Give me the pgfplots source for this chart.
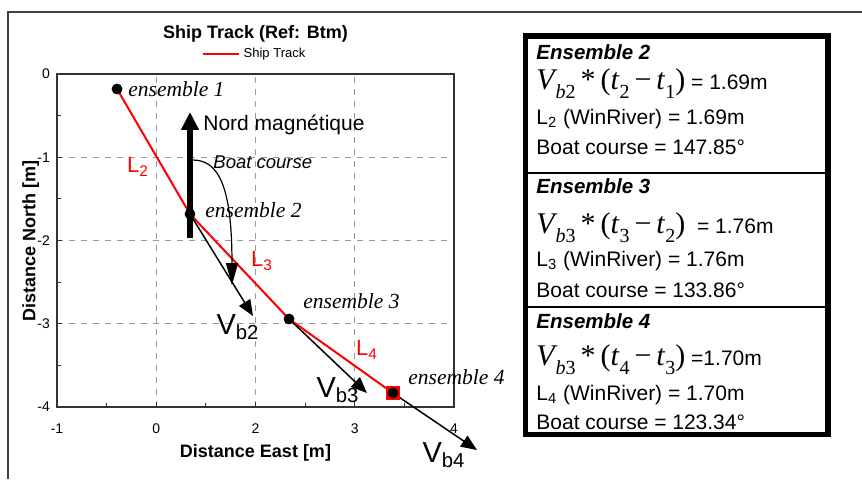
\documentclass[border=0pt]{standalone}
\usepackage{fontspec}
\setmainfont{Liberation Sans}
\newfontfamily\tnr{Liberation Serif}
\usepackage{pgfplots}
\pgfplotsset{compat=1.18}
\usetikzlibrary{arrows.meta}

% formula V_{b#1} * (t_#2 - t_#3), Times style
\newcommand\frm[3]{{\tnr\fontsize{15}{16}\selectfont
  \textit{V}\kern-1pt\raisebox{-4.5pt}{\fontsize{10}{11}\selectfont\textit{b}#1}\,*\,(\textit{t}\raisebox{-4.5pt}{\fontsize{10}{11}\selectfont #2}\,−\,\textit{t}\raisebox{-4.5pt}{\fontsize{10}{11}\selectfont #3})}}

\begin{document}
\begin{tikzpicture}
% 1 px of the reference = 0.5pt
\begin{scope}[x=0.5pt,y=-0.5pt]
  \useasboundingbox (0,0) rectangle (862,479);
  \draw[black!75, line width=0.75pt] (8,479) -- (8,12) -- (862,12);
\end{scope}

\begin{axis}[
    at={(28.5pt,-203.5pt)}, anchor=south west,
    scale only axis, width=198.5pt, height=166.5pt,
    xmin=-1, xmax=3, ymin=-4, ymax=0,
    xtick={-1,0,1,2,3}, xticklabels={-1,0,2,3,4},
    ytick={-4,-3,-2,-1,0},
    minor tick num=1,
    tick align=inside, tick pos=left,
    major tick length=2.5pt, minor tick length=2pt,
    tick style={black!80, line width=0.5pt},
    grid=major,
    major grid style={dashed, black!40, line width=0.4pt},
    axis line style={black!80, line width=0.75pt},
    ticklabel style={font=\fontsize{7}{8}\selectfont},
    xticklabel style={yshift=-5pt},
    /pgf/number format/assume math mode=true,
    xlabel={Distance East [m]}, ylabel={Distance North [m]},
    xlabel style={at={(axis description cs:0.5,-0.138)}, anchor=center, font=\bfseries\fontsize{9}{10}\selectfont},
    ylabel style={at={(axis description cs:-0.066,0.5)}, anchor=center, font=\bfseries\fontsize{9}{10}\selectfont},
    title={Ship Track (Ref: Btm)},
    title style={at={(axis description cs:0.5,1.084)}, anchor=center, font=\bfseries\fontsize{9}{10}\selectfont},
    legend style={at={(axis description cs:0.5,1.06)}, anchor=center, draw=none, fill=none,
        font=\fontsize{6.5}{7}\selectfont, inner sep=0pt},
    legend image code/.code={\draw[red, line width=1pt] (0pt,0pt) -- (18pt,0pt);},
    clip=false,
]
\addplot[red, line width=1pt] coordinates {(-0.395,-0.18) (0.340,-1.682) (1.338,-2.943) (2.385,-3.832)};
\addlegendentry{Ship Track}

% north arrow and boat course arc
\draw[line width=3pt, -{Triangle[length=9pt,width=8.5pt]}] (axis cs:0.340,-1.97) -- (axis cs:0.340,-0.456);
\draw[line width=0.6pt, -{Triangle[length=11pt,width=6pt]}] (axis cs:0.370,-1.033) .. controls (axis cs:0.642,-1.033) and (axis cs:0.763,-1.393) .. (axis cs:0.763,-2.535);

% velocity vectors
\draw[line width=0.75pt, -{Triangle[length=8pt,width=6.5pt]}] (axis cs:0.340,-1.682) -- (axis cs:0.975,-2.907);
\draw[line width=0.75pt, -{Triangle[length=8pt,width=6.5pt]}] (axis cs:1.338,-2.943) -- (axis cs:2.123,-3.832);
\draw[line width=0.75pt, -{Triangle[length=8pt,width=6.5pt]}] (axis cs:2.385,-3.832) -- (axis cs:3.232,-4.517);

\addplot[only marks, mark=square*, mark size=3.25pt, red, forget plot] coordinates {(2.385,-3.832)};
\addplot[only marks, mark=*, mark size=2.5pt, black, forget plot] coordinates {(-0.395,-0.18) (0.340,-1.682) (1.338,-2.943) (2.385,-3.832)};

% labels
\node[anchor=west, inner sep=0pt, font=\tnr\itshape\fontsize{10.75}{12}\selectfont] at (axis cs:-0.285,-0.18) {ensemble 1};
\node[anchor=west, inner sep=0pt, font=\tnr\itshape\fontsize{10.75}{12}\selectfont] at (axis cs:0.491,-1.634) {ensemble 2};
\node[anchor=west, inner sep=0pt, font=\tnr\itshape\fontsize{10.75}{12}\selectfont] at (axis cs:1.479,-2.727) {ensemble 3};
\node[anchor=west, inner sep=0pt, font=\tnr\itshape\fontsize{10.75}{12}\selectfont] at (axis cs:2.537,-3.640) {ensemble 4};
\node[anchor=west, inner sep=0pt, font=\fontsize{10.5}{12}\selectfont] at (axis cs:0.471,-0.613) {Nord magnétique};
\node[anchor=west, inner sep=0pt, font=\itshape\fontsize{9.25}{10}\selectfont] at (axis cs:0.572,-1.057) {Boat course};
\node[red, font=\fontsize{11}{12}\selectfont] at (axis cs:-0.184,-1.117) {L\textsubscript{2}};
\node[red, font=\fontsize{11}{12}\selectfont] at (axis cs:1.065,-2.246) {L\textsubscript{3}};
\node[red, font=\fontsize{11}{12}\selectfont] at (axis cs:2.123,-3.315) {L\textsubscript{4}};
\node[font=\fontsize{14.5}{15}\selectfont] at (axis cs:0.824,-3.039) {V\textsubscript{b2}};
\node[font=\fontsize{14.5}{15}\selectfont] at (axis cs:1.831,-3.796) {V\textsubscript{b3}};
\node[font=\fontsize{14.5}{15}\selectfont] at (axis cs:2.899,-4.577) {V\textsubscript{b4}};
\end{axis}

% results table
\begin{scope}[x=0.5pt,y=-0.5pt, every node/.style={anchor=base west, inner sep=0pt, font=\fontsize{10.5}{12}\selectfont}]
  \draw[line width=2.75pt] (525.5,36) rectangle (828,434.5);
  \draw[line width=1pt] (528,172.5) -- (825,172.5);
  \draw[line width=1pt] (528,306.5) -- (825,306.5);

  \node[font=\bfseries\itshape\fontsize{10.25}{12}\selectfont] at (536,59) {Ensemble 2};
  \node at (536,89) {\frm{2}{2}{1} = 1.69m};
  \node at (536,124) {L\textsubscript{2} (WinRiver) = 1.69m};
  \node at (536,154) {Boat course = 147.85°};

  \node[font=\bfseries\itshape\fontsize{10.25}{12}\selectfont] at (536,193) {Ensemble 3};
  \node at (536,233) {\frm{3}{3}{2}\ \ = 1.76m};
  \node at (536,266) {L\textsubscript{3} (WinRiver) = 1.76m};
  \node at (536,297) {Boat course = 133.86°};

  \node[font=\bfseries\itshape\fontsize{10.25}{12}\selectfont] at (536,328) {Ensemble 4};
  \node at (536,365) {\frm{3}{4}{3} =1.70m};
  \node at (536,400) {L\textsubscript{4} (WinRiver) = 1.70m};
  \node at (536,429) {Boat course = 123.34°};
\end{scope}
\end{tikzpicture}
\end{document}
